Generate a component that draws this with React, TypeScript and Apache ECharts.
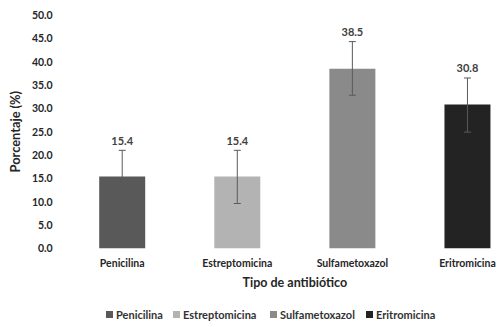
import React, { useEffect, useRef } from "react";
import * as echarts from "echarts";

const categories = ["Penicilina", "Estreptomicina", "Sulfametoxazol", "Eritromicina"];
const values = [15.4, 15.4, 38.5, 30.8];
const errLow = [9.6, 9.6, 32.8, 24.9];
const errHigh = [21.0, 21.0, 44.3, 36.5];
const colors = ["#595959", "#b3b3b3", "#8a8a8a", "#232323"];
const yTicks = { min: 0, max: 50, interval: 5 };
const legendLeft = [106, 173, 270, 366];

const FONT = "Lato";

export default function App() {
  const ref = useRef<HTMLDivElement>(null);
  useEffect(() => {
    if (!ref.current) return;
    const chart = echarts.init(ref.current, null, { renderer: "svg" });
    const barSeries = categories.map((c, i) => ({
      type: "bar",
      name: c,
      stack: "s",
      barWidth: 46,
      itemStyle: { color: colors[i] },
      data: categories.map((_, j) => (j === i ? values[j] : "-")),
    }));
    const errData = categories.map((_, i) => [i, errLow[i], errHigh[i], values[i]]);
    const legends = categories.map((c, i) => ({
      data: [c],
      left: legendLeft[i],
      top: 309,
      padding: 0,
      itemWidth: 7,
      itemHeight: 7,
      icon: "rect",
      selectedMode: false,
      textStyle: { fontFamily: FONT, fontSize: 11, fontWeight: "bold", color: "#333333", padding: [0, 0, 0, -2] },
    }));
    chart.setOption({
      animation: false,
      textStyle: { fontFamily: FONT },
      grid: { left: 60, right: 0, top: 15, bottom: 78.7, containLabel: false },
      legend: legends,
      xAxis: {
        type: "category",
        data: categories,
        name: "Tipo de antibiótico",
        nameLocation: "middle",
        nameGap: 28,
        nameTextStyle: { fontFamily: FONT, fontSize: 12.5, fontWeight: "bold", color: "#262626" },
        axisLine: { show: false },
        axisTick: { show: false },
        axisLabel: { fontFamily: FONT, fontSize: 10.5, fontWeight: "bold", color: "#262626", margin: 9 },
      },
      yAxis: {
        type: "value",
        min: yTicks.min,
        max: yTicks.max,
        interval: yTicks.interval,
        name: "Porcentaje (%)",
        nameLocation: "middle",
        nameGap: 40,
        nameTextStyle: { fontFamily: FONT, fontSize: 12.8, fontWeight: "bold", color: "#262626" },
        axisLine: { show: false },
        axisTick: { show: false },
        splitLine: { show: false },
        axisLabel: {
          fontFamily: FONT,
          fontSize: 10.5,
          fontWeight: "bold",
          color: "#262626",
          margin: 12,
          formatter: (v: number) => v.toFixed(1),
        },
      },
      series: [
        ...barSeries,
        {
          type: "custom",
          name: "err",
          data: errData,
          z: 10,
          renderItem: (params: any, api: any) => {
            const idx = api.value(0);
            const lo = api.coord([idx, api.value(1)]);
            const hi = api.coord([idx, api.value(2)]);
            const x = hi[0];
            const cap = 3.5;
            const style = { stroke: "#5a5a5a", lineWidth: 1 };
            return {
              type: "group",
              children: [
                { type: "line", shape: { x1: x, y1: hi[1], x2: x, y2: lo[1] }, style },
                { type: "line", shape: { x1: x - cap, y1: hi[1], x2: x + cap, y2: hi[1] }, style },
                { type: "line", shape: { x1: x - cap, y1: lo[1], x2: x + cap, y2: lo[1] }, style },
                {
                  type: "text",
                  x: x,
                  y: hi[1] - 10,
                  style: {
                    text: Number(api.value(3)).toFixed(1),
                    fontFamily: FONT,
                    fontSize: 11,
                    fontWeight: "bold",
                    fill: "#404040",
                    align: "center",
                    verticalAlign: "middle",
                  },
                },
              ],
            };
          },
        },
      ],
    });
    return () => chart.dispose();
  }, []);
  return (
    <div style={{ width: 501, height: 327, position: "absolute", left: 0, top: 0, overflow: "hidden" }}>
      <div ref={ref} style={{ width: 525, height: 327, position: "absolute", left: 0, top: 0 }} />
    </div>
  );
}
